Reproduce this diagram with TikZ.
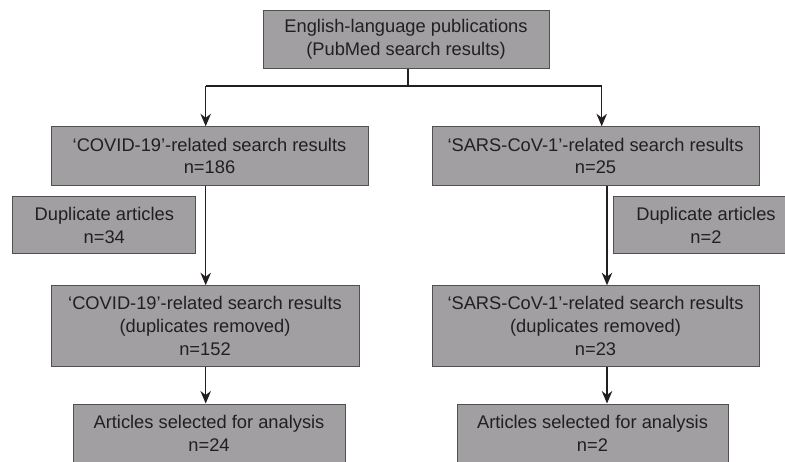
\documentclass[tikz,border=0pt]{standalone}
\usepackage{fontspec}
\setmainfont{Liberation Sans}
\usetikzlibrary{arrows.meta}
\definecolor{boxfill}{RGB}{161,159,161}
\definecolor{boxline}{RGB}{80,80,80}
\definecolor{txt}{RGB}{35,31,32}
\begin{document}
\begin{tikzpicture}[x=1pt,y=-1pt,
  box/.style={draw=boxline, fill=boxfill, line width=1pt, inner sep=0pt, text=txt,
    align=center, font=\fontsize{18.3}{22.8}\selectfont},
  conn/.style={line width=1.1pt, draw=txt},
  arr/.style={conn, -{Stealth[length=12.5pt,width=10.5pt,inset=4pt]}}
]
\useasboundingbox (0,0) rectangle (785,461);
\clip (0,0) rectangle (785,461);
\fill[white] (0,0) rectangle (785,461);

\node[box, minimum width=286pt, minimum height=57.6pt] (top) at (406,39.5)
  {English-language publications\\(PubMed search results)};
\node[box, minimum width=317pt, minimum height=58.3pt] (covA) at (209.5,155.9)
  {‘COVID-19’-related search results\\n=186};
\node[box, minimum width=327pt, minimum height=58.3pt] (covB) at (595.5,155.9)
  {‘SARS-CoV-1’-related search results\\n=25};
\node[box, minimum width=183.3pt, minimum height=57.3pt] (dupA) at (104.3,225.3)
  {Duplicate articles\\n=34};
\node[box, minimum width=186pt, minimum height=57.3pt] (dupB) at (706,225.3)
  {Duplicate articles\\n=2};
\node[box, minimum width=308pt, minimum height=81pt] (remA) at (205,326.2)
  {‘COVID-19’-related search results\\(duplicates removed)\\n=152};
\node[box, minimum width=327pt, minimum height=81pt] (remB) at (595.5,326.2)
  {‘SARS-CoV-1’-related search results\\(duplicates removed)\\n=23};
\node[box, minimum width=272pt, minimum height=58pt] (selA) at (209,433)
  {Articles selected for analysis\\n=24};
\node[box, minimum width=271pt, minimum height=58pt] (selB) at (592.5,433)
  {Articles selected for analysis\\n=2};

\coordinate (split) at (408,86);
\coordinate (jA) at (205.7,86);
\coordinate (jB) at (601.7,86);
\coordinate (kB) at (607,0);

\draw[conn] (top.south -| split) -- (split);
\draw[conn] (jA) -- (jB);
\draw[arr] (jA) -- (covA.north -| jA);
\draw[arr] (jB) -- (covB.north -| jB);
\draw[arr] (covA.south -| jA) -- (remA.north -| jA);
\draw[arr] (remA.south -| jA) -- (selA.north -| jA);
\draw[arr] (covB.south -| kB) -- (remB.north -| kB);
\draw[arr] (remB.south -| kB) -- (selB.north -| kB);
\end{tikzpicture}
\end{document}
